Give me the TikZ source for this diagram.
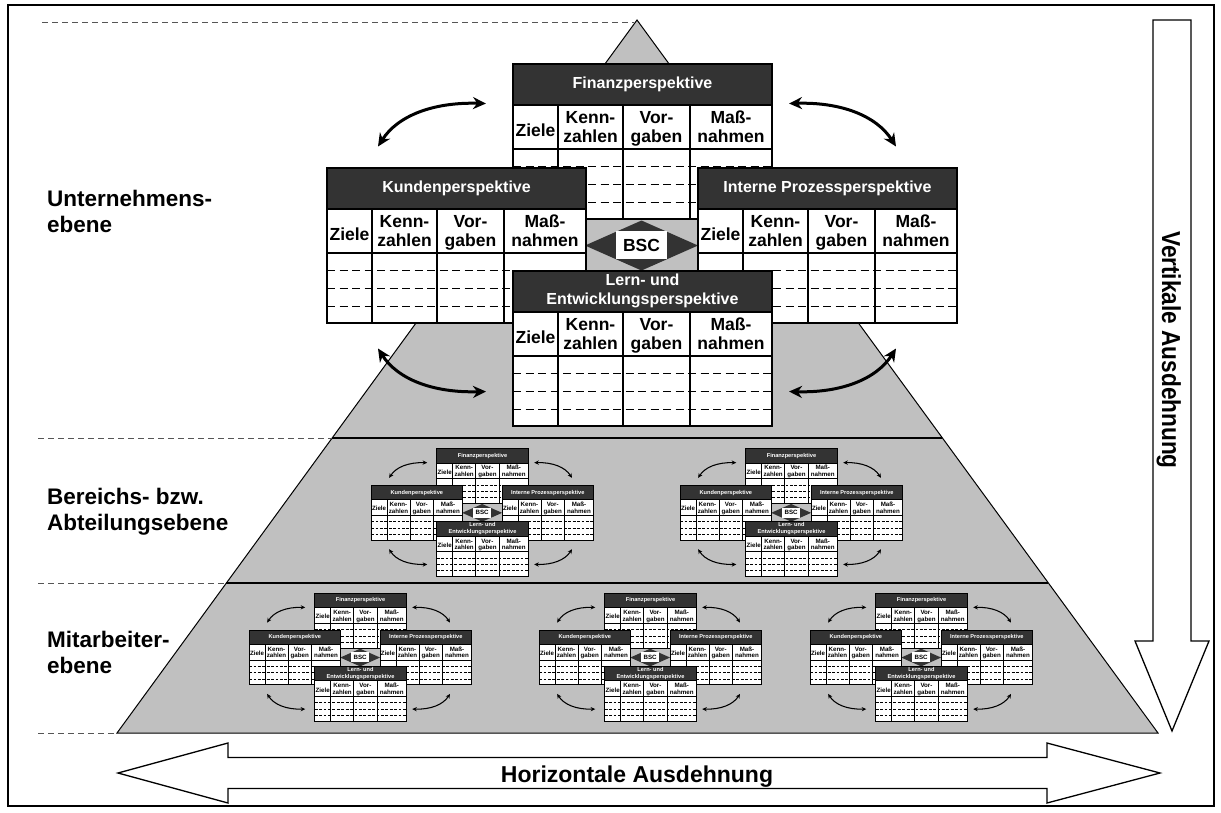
\documentclass[tikz,border=0pt]{standalone}
\usepackage{fontspec}
\setmainfont{Liberation Sans}
\usepackage{graphicx}
\usetikzlibrary{arrows.meta}

\definecolor{pyrgray}{HTML}{C0C0C0}
\definecolor{hdrgray}{HTML}{333333}
\definecolor{guidegray}{HTML}{555555}

\tikzset{
  boxline/.style={draw=black, line width=\bscs*2pt},
  dashrow/.style={draw=black, line width=\bscs*1.5pt, dash pattern=on \dashon pt off \dashoff pt},
  titletext/.style={text=white, font=\bfseries\fontsize{16}{19}\selectfont, inner sep=0pt, align=center},
  coltext/.style={text=black, font=\bfseries\fontsize{17.5}{18.5}\selectfont, inner sep=0pt, align=center},
  bsclabel/.style={fill=white, text=black, font=\bfseries\fontsize{17.5}{20}\selectfont,
    inner sep=0pt, minimum width=51, minimum height=28},
  linkarrow/.style={draw=black, line width=\bscs*3pt,
    {Stealth[length=\tipl pt, width=\tipw pt]}-{Stealth[length=\tipl pt, width=\tipw pt]}},
  guide/.style={draw=guidegray, line width=1pt, dash pattern=on 6pt off 4pt},
  levelline/.style={draw=black, line width=1.2pt},
  levellabel/.style={font=\bfseries\fontsize{22.5}{26}\selectfont, align=left, inner sep=0pt, anchor=north west},
  bigarrow/.style={draw=black, fill=white, line width=1.3pt, line join=miter},
}

% one perspective table: header, column heads, three dashed rows
\newcommand\perspbox[4]{%
  \begin{scope}[shift={(#2,#3)}]
    \fill[white] (0,0) rectangle (259,155);
    \fill[hdrgray] (0,0) rectangle (259,41);
    \draw[dashrow] (0,103) -- (259,103) (0,121) -- (259,121) (0,139) -- (259,139);
    \draw[boxline] (0,41) -- (259,41) (0,85) -- (259,85)
      (45,41) -- (45,155) (110,41) -- (110,155) (177,41) -- (177,155);
    \draw[boxline] (0,0) rectangle (259,155);
    \node[titletext] (#1-title) at (129.5,20.5) {#4};
    \node[coltext] (#1-ziele) at (22.5,69) {Ziele\strut};
    \node[coltext] (#1-kenn) at (77.5,66) {Kenn-\strut\\zahlen\strut};
    \node[coltext] (#1-vor) at (143.5,66) {Vor-\strut\\gaben\strut};
    \node[coltext] (#1-mass) at (218,66) {Maß-\strut\\nahmen\strut};
  \end{scope}}

% a complete scorecard: four perspectives around the BSC diamond
\newcommand\bscgroup[4]{%
  \begin{scope}[shift={(#2,#3)}, scale=#4, transform shape]
    \pgfmathsetmacro\bscs{#4}
    \pgfmathsetmacro\dashon{8*#4}
    \pgfmathsetmacro\dashoff{4.5*#4}
    \pgfmathsetmacro\tipl{13*#4}
    \pgfmathsetmacro\tipw{12*#4}
    \perspbox{#1-fin}{-129.5}{-180.5}{Finanzperspektive}
    \fill[pyrgray] (-57.5,-23.5) rectangle (55.5,26.5);
    \fill[hdrgray] (-57.5,1.5) -- (-1,-23.5) -- (55.5,1.5) -- (-1,26.5) -- cycle;
    \perspbox{#1-kun}{-315.5}{-76.5}{Kundenperspektive}
    \perspbox{#1-int}{55.5}{-76.5}{Interne Prozessperspektive}
    \node[bsclabel] (#1-bsc) at (-1,1) {BSC};
    \perspbox{#1-lern}{-129.5}{26.5}{Lern- und\\Entwicklungsperspektive}
    \coordinate (#1-ul1) at (-264.5,-97.5);
    \coordinate (#1-ul2) at (-156.5,-140.5);
    \coordinate (#1-ur1) at (146.5,-140.5);
    \coordinate (#1-ur2) at (253.5,-97.5);
    \coordinate (#1-ll1) at (-264.5,104.5);
    \coordinate (#1-ll2) at (-156.5,147.5);
    \coordinate (#1-lr1) at (146.5,147.5);
    \coordinate (#1-lr2) at (253.5,104.5);
    \draw[linkarrow] (#1-ul1) .. controls (-245,-128) and (-210,-142) .. (#1-ul2);
    \draw[linkarrow] (#1-ur1) .. controls (199,-142) and (234,-128) .. (#1-ur2);
    \draw[linkarrow] (#1-ll1) .. controls (-245,135) and (-210,149) .. (#1-ll2);
    \draw[linkarrow] (#1-lr1) .. controls (199,149) and (234,135) .. (#1-lr2);
  \end{scope}}

\begin{document}
\begin{tikzpicture}[x=1pt,y=-1pt]
  \useasboundingbox (0,0) rectangle (1221,812);
  \fill[white] (0,0) rectangle (1221,812);

  % pyramid of the three levels
  \coordinate (apex) at (637,20);
  \coordinate (baseL) at (117,733);
  \coordinate (baseR) at (1158,733);
  \fill[pyrgray] (apex) -- (baseR) -- (baseL) -- cycle;
  \draw[line width=1pt] (apex) -- (baseR) -- (baseL) -- cycle;
  \draw[levelline] (332.1,438) -- (942.4,438);
  \draw[levelline] (226.4,583) -- (1048.4,583);

  % level guides
  \draw[guide] (42,22) -- (634,22);
  \draw[guide] (38,438) -- (332,438);
  \draw[guide] (38,583) -- (226,583);
  \draw[guide] (38,733) -- (117,733);

  % scorecards
  \bscgroup{top}{642.5}{244}{1}
  \bscgroup{mida}{482.5}{512.3}{0.353}
  \bscgroup{midb}{791.5}{512.3}{0.353}
  \bscgroup{lowa}{360.5}{657}{0.353}
  \bscgroup{lowb}{650.5}{657}{0.353}
  \bscgroup{lowc}{921.5}{657}{0.353}

  % level names
  \node[levellabel] (lvl1) at (47,190) {Unternehmens-\\ebene};
  \node[levellabel] (lvl2) at (47,488) {Bereichs- bzw.\\Abteilungsebene};
  \node[levellabel] (lvl3) at (47,631) {Mitarbeiter-\\ebene};

  % extension arrows
  \draw[bigarrow] (118,773) -- (228,743) -- (228,757.5) -- (1047,757.5) -- (1047,743)
    -- (1160,773) -- (1047,803) -- (1047,788.5) -- (228,788.5) -- (228,803) -- cycle;
  \node[font=\bfseries\fontsize{23}{27}\selectfont, inner sep=0pt, anchor=base]
    (htext) at (637,782.5) {Horizontale Ausdehnung};
  \draw[bigarrow] (1153,20) -- (1191,20) -- (1191,641) -- (1209,641) -- (1172,731)
    -- (1135,641) -- (1153,641) -- cycle;
  \node[font=\bfseries\fontsize{26}{30}\selectfont, inner sep=0pt, anchor=base, rotate=-90]
    (vtext) at (1162,350) {\scalebox{0.87}[1]{Vertikale Ausdehnung}};

  % frame
  \draw[line width=2pt] (8,5) rectangle (1214,806);
\end{tikzpicture}
\end{document}
